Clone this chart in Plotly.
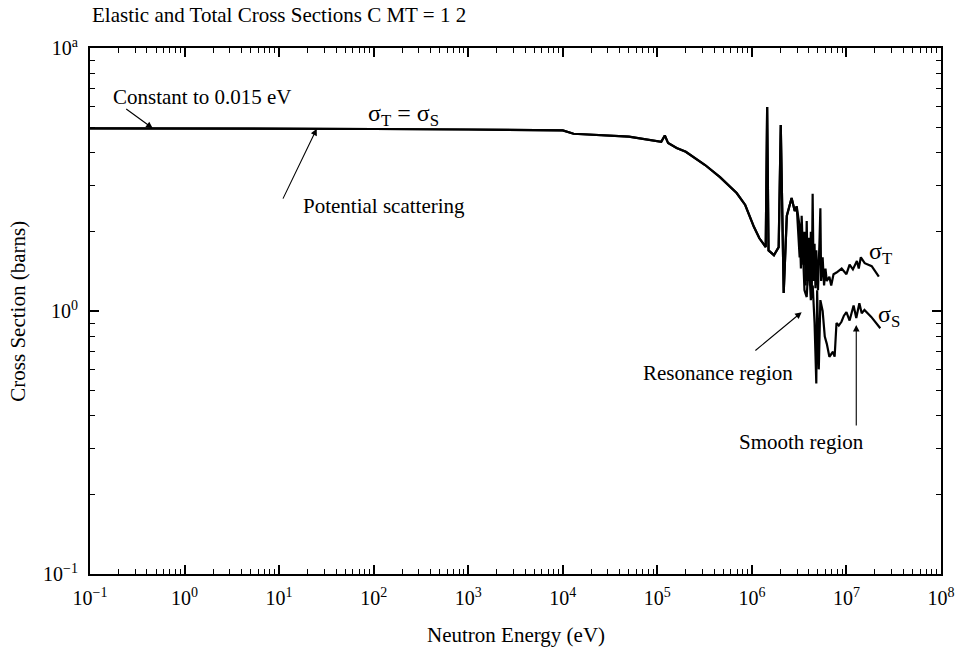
import math
import plotly.graph_objects as go

# Carbon (MT = 1, 2) neutron cross sections, energy in eV, cross section in barns
energy_common = [0.1, 1, 10, 100, 1e3, 1e4, 1.3e4, 5e4, 1.1e5, 1.2e5, 1.3e5,
                 1.6e5, 2.0e5, 2.5e5, 3.2e5, 4.6e5, 5.7e5, 6.9e5, 8.5e5, 1.05e6,
                 1.2e6, 1.40e6, 1.45e6, 1.50e6, 1.71e6,
                 1.92e6, 2.02e6, 2.12e6, 2.17e6, 2.34e6, 2.63e6, 2.84e6, 2.98e6]
sigma_common = [4.95, 4.95, 4.93, 4.92, 4.90, 4.86, 4.72, 4.60, 4.40, 4.65, 4.35,
                4.17, 4.03, 3.81, 3.59, 3.23, 3.01, 2.81, 2.53, 2.09,
                1.89, 1.75, 5.97, 1.70, 1.63,
                1.75, 5.10, 1.90, 1.17, 2.30, 2.69, 2.40, 2.50]

# total cross section above 3 MeV
energy_total_hi = [3.2e6, 3.3e6, 3.36e6, 3.5e6, 3.6e6, 3.7e6, 3.8e6, 3.9e6, 4.0e6,
                   4.1e6, 4.2e6, 4.3e6, 4.39e6, 4.5e6, 4.6e6, 4.7e6, 4.8e6, 5.0e6,
                   5.2e6, 5.3e6, 5.4e6, 5.6e6, 5.8e6, 6.0e6, 6.2e6, 6.6e6, 6.9e6,
                   7.3e6, 7.85e6, 8.9e6, 1.0e7, 1.08e7, 1.17e7, 1.29e7, 1.35e7,
                   1.42e7, 1.56e7, 1.85e7, 2.2e7]
sigma_total_hi = [2.10, 1.45, 2.30, 1.50, 2.00, 1.25, 2.20, 1.30, 1.90,
                  1.25, 2.00, 1.20, 2.79, 1.30, 1.80, 1.22, 1.70, 1.20,
                  1.90, 2.46, 1.30, 1.60, 1.25, 1.45, 1.30, 1.35, 1.25,
                  1.38, 1.40, 1.45, 1.38, 1.50, 1.44, 1.55, 1.45,
                  1.60, 1.52, 1.48, 1.35]

# elastic cross section above 3 MeV
energy_elastic_hi = [3.2e6, 3.4e6, 3.6e6, 3.8e6, 4.0e6, 4.2e6, 4.4e6, 4.6e6, 4.8e6,
                     4.9e6, 5.1e6, 5.3e6, 5.6e6, 5.9e6, 6.2e6, 6.6e6, 7.2e6, 7.5e6,
                     7.85e6, 8.3e6, 8.86e6, 9.4e6, 1.0e7, 1.08e7, 1.19e7, 1.27e7,
                     1.37e7, 1.45e7, 1.55e7, 1.83e7, 2.28e7]
sigma_elastic_hi = [1.60, 2.00, 1.20, 1.13, 1.60, 1.10, 1.25, 0.90, 0.53,
                    1.20, 0.60, 1.10, 1.00, 0.80, 0.75, 0.67, 0.70, 0.67,
                    0.90, 0.88, 0.91, 0.96, 0.99, 0.92, 1.05, 0.94,
                    1.07, 0.98, 1.01, 0.95, 0.86]

x_major = [10.0 ** k for k in range(-1, 9)]
x_major_text = ["10<sup>−1</sup>"] + [f"10<sup>{k}</sup>" for k in range(0, 9)]
y_major = [0.1, 1, 10]
y_major_text = ["10<sup>−1</sup>", "10<sup>0</sup>", "10<sup>a</sup>"]
x_minor = [d * 10.0 ** k for k in range(-1, 8) for d in range(2, 10)]
y_minor = [d * 10.0 ** k for k in range(-1, 1) for d in range(2, 10)]

FONT = "Liberation Serif"
LINE = dict(color="black", width=2.2)

fig = go.Figure()
fig.add_trace(go.Scatter(x=energy_common + energy_total_hi,
                         y=sigma_common + sigma_total_hi,
                         mode="lines", line=LINE, name="total"))
fig.add_trace(go.Scatter(x=energy_common + energy_elastic_hi,
                         y=sigma_common + sigma_elastic_hi,
                         mode="lines", line=LINE, name="elastic"))

axis_common = dict(
    showgrid=False, zeroline=False, showline=True, linecolor="black", linewidth=2,
    mirror="allticks", ticks="inside", ticklen=9, tickwidth=1.5, tickcolor="black",
    tickfont=dict(family=FONT, size=20, color="black"),
)
fig.update_xaxes(type="log", range=[-1, 8], tickmode="array", tickvals=x_major,
                 ticktext=x_major_text, ticklabelstandoff=5,
                 minor=dict(tickmode="array", tickvals=x_minor, ticks="inside",
                            ticklen=5, tickwidth=1.2, tickcolor="black"),
                 **axis_common)
fig.update_yaxes(type="log", range=[-1, 1], tickmode="array", tickvals=y_major,
                 ticktext=y_major_text, ticklabelstandoff=6,
                 minor=dict(tickmode="array", tickvals=y_minor, ticks="inside",
                            ticklen=5, tickwidth=1.2, tickcolor="black"),
                 **axis_common)


def lg(v):
    return math.log10(v)


notes = [
    # text labels: (text, energy, sigma, xanchor, font size)
    ("Constant to 0.015 eV", 1.55, 6.52, "center", 21),
    ("σ<sub>T</sub> = σ<sub>S</sub>", 207, 5.56, "center", 24),
    ("Potential scattering", 17.1, 2.51, "left", 21),
    ("Resonance region", 2.84e6, 0.58, "right", 21),
    ("Smooth region", 3.36e6, 0.318, "center", 21),
    ("σ<sub>T</sub>", 2.28e7, 1.66, "center", 24),
    ("σ<sub>S</sub>", 2.84e7, 0.96, "center", 24),
]
for text, e, s, anchor, size in notes:
    fig.add_annotation(x=lg(e), y=lg(s), xref="x", yref="y", text=text,
                       showarrow=False, xanchor=anchor, yanchor="middle",
                       font=dict(family=FONT, size=size, color="black"))

arrows = [
    # (head energy, head sigma, tail energy, tail sigma)
    (0.46, 4.95, 0.233, 5.92),
    (25.0, 4.93, 10.8, 2.64),
    (3.36e6, 0.99, 1.05e6, 0.70),
    (1.27e7, 0.885, 1.27e7, 0.362),
]
for he, hs, te, ts in arrows:
    fig.add_annotation(x=lg(he), y=lg(hs), ax=lg(te), ay=lg(ts), xref="x", yref="y",
                       axref="x", ayref="y", text="", showarrow=True, arrowhead=2,
                       arrowsize=1.2, arrowwidth=1.1, arrowcolor="black")

fig.add_annotation(x=0, y=1.063, xref="paper", yref="paper", xanchor="left",
                   yanchor="middle", showarrow=False,
                   text="Elastic and Total Cross Sections C MT = 1 2",
                   font=dict(family=FONT, size=21, color="black"))
fig.add_annotation(x=0.5, y=-0.116, xref="paper", yref="paper", xanchor="center",
                   yanchor="middle", showarrow=False, text="Neutron Energy (eV)",
                   font=dict(family=FONT, size=21, color="black"))
fig.add_annotation(x=-0.085, y=0.5, xref="paper", yref="paper", xanchor="center",
                   yanchor="middle", showarrow=False, text="Cross Section (barns)",
                   textangle=-90, font=dict(family=FONT, size=21, color="black"))

fig.update_layout(width=967, height=648, margin=dict(l=90, r=22, t=48, b=74),
                  paper_bgcolor="white", plot_bgcolor="white", showlegend=False,
                  font=dict(family=FONT, color="black"))

fig.write_html("out.html")
